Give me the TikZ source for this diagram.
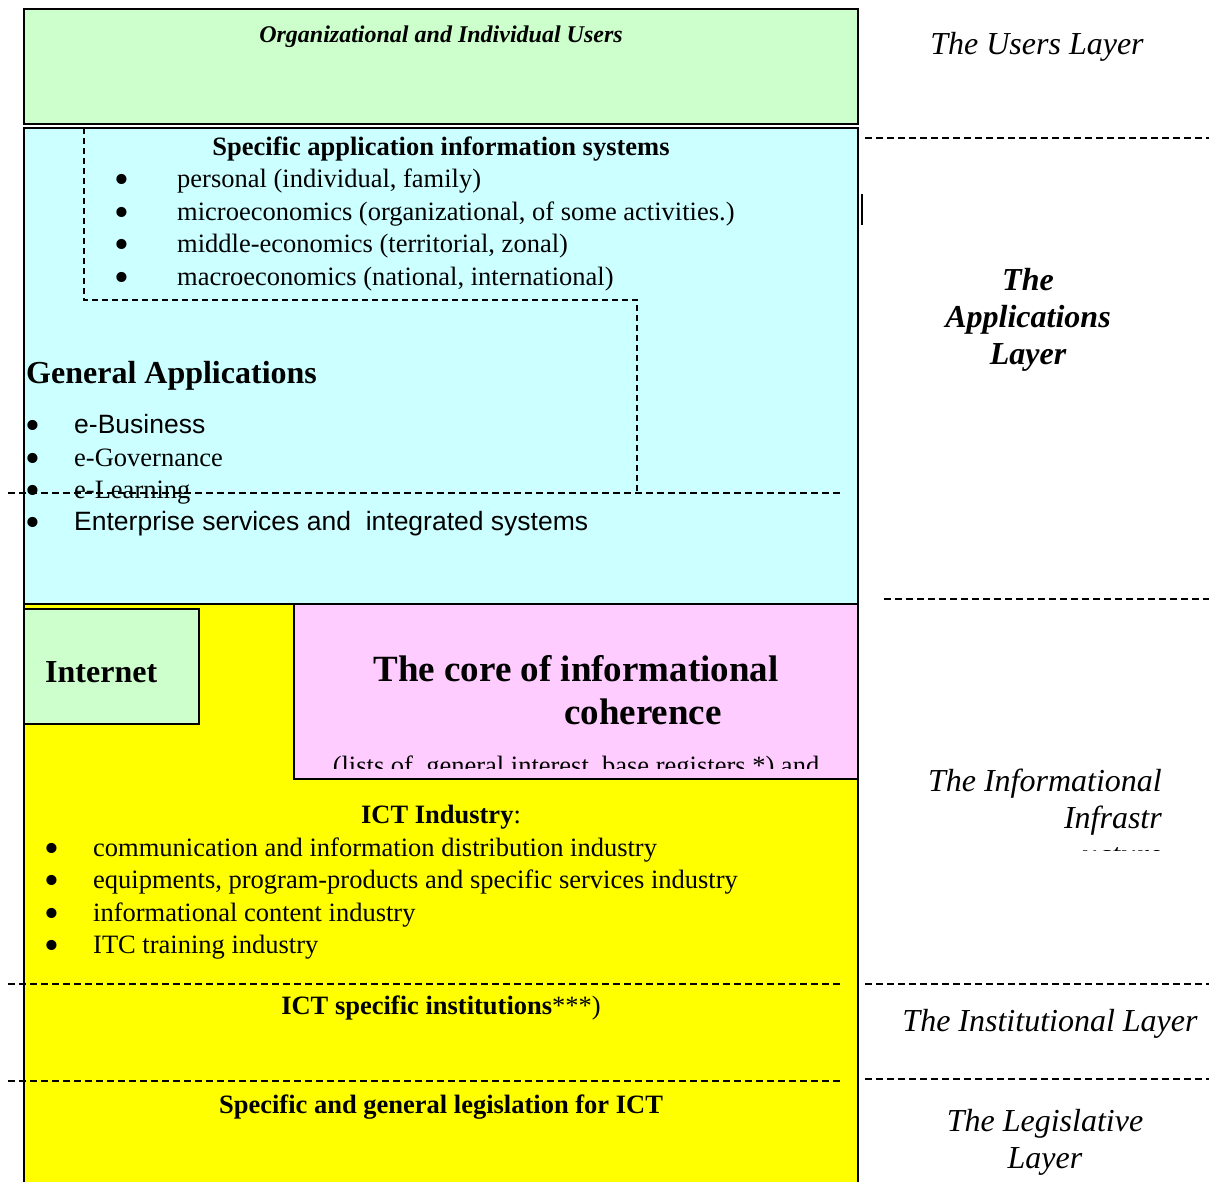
\documentclass[tikz,border=0pt]{standalone}
\usepackage{fontspec}
\setmainfont{Liberation Serif}
\newfontfamily\arialfont{Liberation Sans}
\definecolor{usergreen}{HTML}{CCFFCC}
\definecolor{appcyan}{HTML}{CCFFFF}
\definecolor{infyellow}{HTML}{FFFF00}
\definecolor{corepink}{HTML}{FFCCFF}
\newcommand{\bodyfont}{\fontsize{26.5}{32.5}\selectfont}
\newcommand{\tagfont}{\fontsize{32}{37}\selectfont}
\newcommand{\bul}[1]{\makebox[#1][l]{\smash{\raisebox{-0.23em}{\scalebox{1.6}{\textbullet}}}}}
\tikzset{
  panel/.style={draw, line width=1.6pt, inner sep=0pt, outer sep=0pt},
  bodytext/.style={inner sep=0pt, anchor=base, font=\bodyfont},
  listitem/.style={inner sep=0pt, anchor=base west, font=\bodyfont},
  layertag/.style={inner sep=0pt, anchor=base, align=center, font=\tagfont\itshape},
  divider/.style={line width=2pt, dash pattern=on 7pt off 4pt},
  boundary/.style={line width=1.6pt, dash pattern=on 6pt off 4pt}
}

\begin{document}
\begin{tikzpicture}[x=1pt,y=-1pt]
  \clip (0,0) rectangle (1209,1181);
  \fill[white] (0,0) rectangle (1209,1181);

  % layer panels
  \node[panel, fill=usergreen, minimum width=834, minimum height=115] (users) at (441,66.5) {};
  \node[panel, fill=infyellow, minimum width=834, minimum height=600] (infra) at (441,904) {};
  \node[panel, fill=appcyan, minimum width=834, minimum height=476] (apps) at (441,366) {};
  \node[panel, fill=corepink, minimum width=564, minimum height=175] (core) at (576,691.5) {};
  \node[panel, fill=usergreen, minimum width=175, minimum height=115] (internet) at (111.5,666.5) {};

  % users
  \node[inner sep=0pt, anchor=base, font=\fontsize{24}{28}\selectfont\bfseries\itshape] (userstxt) at (441,42) {Organizational and Individual Users};

  % specific applications
  \draw[boundary] (84,128) -- (84,300) -- (637,300) -- (637,493);
  \node[bodytext, font=\bodyfont\bfseries] (spectitle) at (441,155) {Specific application information systems};
  \node[listitem] (spec1) at (114,187.5) {\bul{63pt}personal (individual, family)};
  \node[listitem] (spec2) at (114,220) {\bul{63pt}microeconomics (organizational, of some activities.)};
  \node[listitem] (spec3) at (114,252.5) {\bul{63pt}middle-economics (territorial, zonal)};
  \node[listitem] (spec4) at (114,285) {\bul{63pt}macroeconomics (national, international)};

  % general applications
  \node[listitem, font=\fontsize{32}{37}\selectfont\bfseries] (gentitle) at (26,383.5) {General Applications};
  \node[listitem] (gen1) at (25,433.5) {\bul{49pt}{\arialfont e-Business}};
  \node[listitem] (gen2) at (25,466) {\bul{49pt}e-Governance};
  \node[listitem] (gen3) at (25,498) {\bul{49pt}e-Learning};
  \node[listitem] (gen4) at (25,530) {\bul{49pt}{\arialfont Enterprise services and~ integrated systems}};

  % infrastructure
  \node[listitem, font=\fontsize{32}{37}\selectfont\bfseries] (internettxt) at (45,682.5) {Internet};
  \node[bodytext, font=\fontsize{37}{43}\selectfont\bfseries] (coretitle) at (576,681) {The core of informational};
  \node[bodytext, font=\fontsize{37}{43}\selectfont\bfseries] (coretitle2) at (643,724) {coherence};
  \begin{scope}
    \clip (294,604) rectangle (858,768);
    \node[bodytext] (corelist) at (576,774) {(lists of~ general interest~ base registers *) and};
  \end{scope}
  \node[bodytext] (icttitle) at (441,823) {\textbf{ICT Industry}:};
  \node[listitem] (ict1) at (44,856) {\bul{49pt}communication and information distribution industry};
  \node[listitem] (ict2) at (44,888.5) {\bul{49pt}equipments, program-products and specific services industry};
  \node[listitem] (ict3) at (44,921) {\bul{49pt}informational content industry};
  \node[listitem] (ict4) at (44,953.5) {\bul{49pt}ITC training industry};

  % institutions and legislation
  \node[bodytext] (insttxt) at (441,1014) {\textbf{ICT specific institutions}***)};
  \node[bodytext, font=\bodyfont\bfseries] (legtxt) at (441,1113) {Specific and general legislation for ICT};

  % separators
  \draw[divider] (8,493) -- (840,493);
  \draw[divider] (8,984) -- (840,984);
  \draw[divider] (8,1081) -- (840,1081);
  \draw[divider] (865,138) -- (1209,138);
  \draw[divider] (884,599) -- (1209,599);
  \draw[divider] (865,984) -- (1209,984);
  \draw[divider] (865,1079) -- (1209,1079);
  \draw[line width=2pt] (862,194) -- (862,225);

  % layer names
  \node[layertag] (userslayer) at (1037,54) {The Users Layer};
  \node[layertag, font=\tagfont\bfseries\itshape] (appslayer) at (1028,364) {The\\Applications\\Layer};
  \begin{scope}
    \clip (860,700) rectangle (1209,850);
    \node[layertag, align=right, anchor=base east] (infralayer) at (1162,865) {The Informational\\Infrastr\\ucture};
  \end{scope}
  \node[layertag] (instlayer) at (1050,1031) {The Institutional Layer};
  \node[layertag] (leglayer) at (1045,1168) {The Legislative\\Layer};
\end{tikzpicture}
\end{document}
